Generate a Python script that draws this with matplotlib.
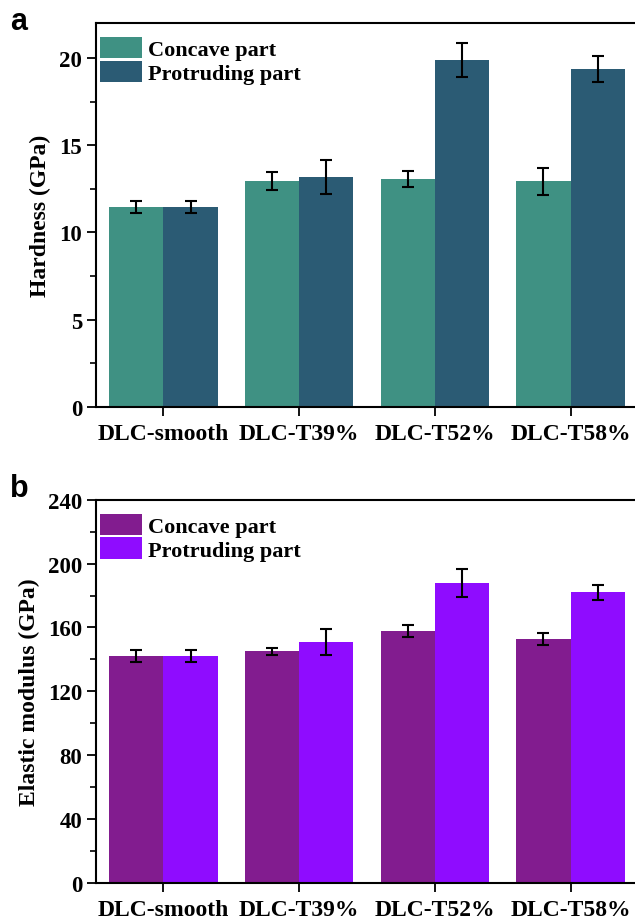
import matplotlib
matplotlib.use("Agg")
import matplotlib.pyplot as plt
import numpy as np
from matplotlib.ticker import MultipleLocator

categories = ["DLC-smooth", "DLC-T39%", "DLC-T52%", "DLC-T58%"]
series = ["Concave part", "Protruding part"]

hard_concave = [11.45, 12.95, 13.08, 12.93]
hard_concave_err = [0.36, 0.54, 0.45, 0.77]
hard_protr = [11.45, 13.18, 19.88, 19.37]
hard_protr_err = [0.36, 1.0, 1.0, 0.75]

mod_concave = [142.1, 145.0, 157.8, 152.8]
mod_concave_err = [4.0, 2.3, 3.7, 3.5]
mod_protr = [142.1, 150.9, 187.6, 182.0]
mod_protr_err = [4.0, 8.0, 8.7, 4.8]

serif = ["Liberation Serif", "DejaVu Serif"]
plt.rcParams["font.family"] = serif
plt.rcParams["font.weight"] = "bold"

fig = plt.figure(figsize=(6.35, 9.2), dpi=100)

def panel(rect, v1, e1, v2, e2, c1, c2, ylim, major, ylabel, letter, letter_y):
    ax = fig.add_axes(rect)
    x = np.arange(len(categories))
    w = 0.4
    ax.bar(x - w / 2, v1, w, color=c1, label=series[0], zorder=2)
    ax.bar(x + w / 2, v2, w, color=c2, label=series[1], zorder=2)
    ekw = dict(fmt="none", ecolor="black", elinewidth=1.5, capsize=4, capthick=1.5, zorder=3)
    ax.errorbar(x - w / 2, v1, yerr=e1, **ekw)
    ax.errorbar(x + w / 2, v2, yerr=e2, **ekw)
    ax.set_xlim(-0.5, 3.5)
    ax.set_ylim(*ylim)
    ax.yaxis.set_major_locator(MultipleLocator(major))
    ax.yaxis.set_minor_locator(MultipleLocator(major / 2))
    ax.set_xticks(x)
    ax.set_xticklabels(categories)
    ax.tick_params(axis="both", which="major", direction="out", length=6.5, width=1.3)
    ax.tick_params(axis="y", which="minor", direction="out", length=4, width=1.2)
    ax.tick_params(axis="x", labelsize=17, pad=5)
    ax.tick_params(axis="y", labelsize=16.5, pad=3)
    for lbl in ax.get_xticklabels() + ax.get_yticklabels():
        lbl.set_fontweight("bold")
    for s in ax.spines.values():
        s.set_linewidth(1.5)
    ax.set_ylabel(ylabel, fontsize=17, fontweight="bold", labelpad=6)
    ax.legend(loc="upper left", bbox_to_anchor=(0.0, 0.975), frameon=False,
              prop=dict(family=serif, weight="bold", size=16),
              handlelength=1.9, handleheight=1.1, labelspacing=0.02,
              handletextpad=0.25, borderaxespad=0.15, borderpad=0.05)
    fig.text(0.016, letter_y, letter, fontsize=22, fontweight="bold",
             family=["Liberation Sans", "DejaVu Sans"], va="center")
    return ax

panel([0.1505, 0.5565, 0.855, 0.4174], hard_concave, hard_concave_err,
      hard_protr, hard_protr_err, "#3f9183", "#2b5b74", (0, 22), 5,
      "Hardness (GPa)", "a", 0.976)
panel([0.1505, 0.0391, 0.855, 0.4167], mod_concave, mod_concave_err,
      mod_protr, mod_protr_err, "#821c8f", "#8f0cff", (0, 240), 40,
      "Elastic modulus (GPa)", "b", 0.469)

fig.savefig("out.png", dpi=100)
